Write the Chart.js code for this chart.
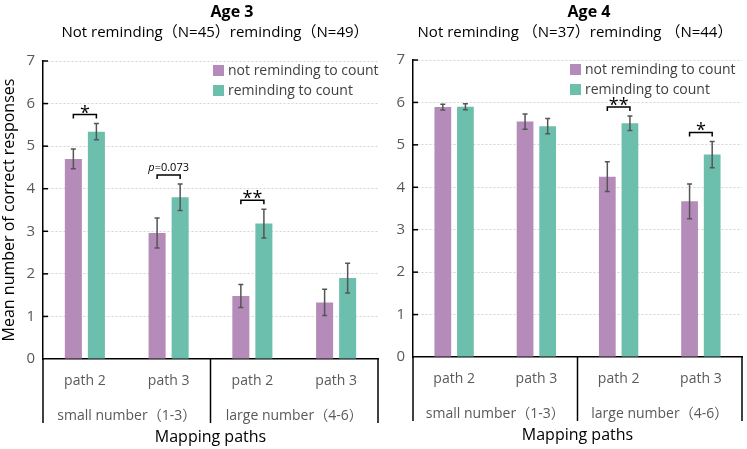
<!DOCTYPE html>
<html>
<head>
<meta charset="utf-8">
<script src="https://cdn.jsdelivr.net/npm/chart.js@4.4.0/dist/chart.umd.min.js"></script>
<style>
  html, body { margin: 0; padding: 0; background: #fff; }
  #wrap { position: relative; width: 747px; height: 449px; }
  #c1 { position: absolute; left: 0; top: 0; }
  #c2 { position: absolute; left: 380px; top: 0; }
</style>
</head>
<body>
<div id="wrap">
  <canvas id="c1" width="380" height="449"></canvas>
  <canvas id="c2" width="367" height="449"></canvas>
</div>
<script>
// ---------------- data ----------------
const categories = ['path 2', 'path 3', 'path 2', 'path 3'];
const groupLabels = ['small number（1-3）', 'large number（4-6）'];
const seriesNames = ['not reminding to count', 'reminding to count'];
const yTickValues = [0, 1, 2, 3, 4, 5, 6, 7];

const age3NotReminding = [4.70, 2.96, 1.48, 1.33];
const age3NotRemindingErr = [0.23, 0.35, 0.27, 0.31];
const age3Reminding = [5.34, 3.80, 3.18, 1.90];
const age3RemindingErr = [0.19, 0.31, 0.34, 0.35];

const age4NotReminding = [5.89, 5.55, 4.25, 3.67];
const age4NotRemindingErr = [0.07, 0.18, 0.35, 0.41];
const age4Reminding = [5.90, 5.44, 5.51, 4.77];
const age4RemindingErr = [0.07, 0.18, 0.17, 0.31];

const age3Significance = [[0, '*'], [1, 'p=0.073'], [2, '**']];
const age4Significance = [[2, '**'], [3, '*']];

const age3Title = 'Age 3';
const age3Subtitle = 'Not reminding（N=45）reminding（N=49）';
const age4Title = 'Age 4';
const age4Subtitle = 'Not reminding （N=37）reminding （N=44）';
const xTitle = 'Mapping paths';
const yTitle = 'Mean number of correct responses';

// ---------------- styling ----------------
const FONT = "'Open Sans', 'Noto Sans CJK SC', sans-serif";
const PURPLE = '#b58bba';
const TEAL = '#6cbfac';
const TICK_COLOR = '#595959';

const decorPlugin = {
  id: 'decor',
  afterDatasetsDraw(chart) {
    const o = chart.options.plugins.decor;
    const ctx = chart.ctx;
    const y = chart.scales.y;
    const errs = o.errors;
    // error bars
    ctx.save();
    ctx.strokeStyle = '#555555';
    ctx.lineWidth = 1.5;
    chart.data.datasets.forEach((ds, di) => {
      const meta = chart.getDatasetMeta(di);
      meta.data.forEach((el, i) => {
        const v = ds.data[i], e = errs[di][i];
        const yt = y.getPixelForValue(v + e), yb = y.getPixelForValue(v - e);
        ctx.beginPath();
        ctx.moveTo(el.x, yt); ctx.lineTo(el.x, yb);
        ctx.moveTo(el.x - 2.5, yt); ctx.lineTo(el.x + 2.5, yt);
        ctx.moveTo(el.x - 2.5, yb); ctx.lineTo(el.x + 2.5, yb);
        ctx.stroke();
      });
    });
    ctx.restore();
    // significance brackets
    ctx.save();
    ctx.strokeStyle = '#000';
    ctx.fillStyle = '#000';
    ctx.lineWidth = 1.5;
    o.sig.forEach(([cat, label]) => {
      const e0 = chart.getDatasetMeta(0).data[cat];
      const e1 = chart.getDatasetMeta(1).data[cat];
      const d0 = chart.data.datasets[0].data[cat] + errs[0][cat];
      const d1 = chart.data.datasets[1].data[cat] + errs[1][cat];
      const top = Math.min(y.getPixelForValue(d0), y.getPixelForValue(d1));
      const by = top - 9;
      ctx.beginPath();
      ctx.moveTo(e0.x, by + 4); ctx.lineTo(e0.x, by); ctx.lineTo(e1.x, by); ctx.lineTo(e1.x, by + 4);
      ctx.stroke();
      const cx = (e0.x + e1.x) / 2;
      ctx.textBaseline = 'alphabetic';
      if (label.startsWith('p=')) {
        ctx.font = 'italic 11px ' + FONT;
        const pw = ctx.measureText('p').width;
        ctx.font = '11px ' + FONT;
        const rest = label.slice(1);
        const rw = ctx.measureText(rest).width;
        const sx = cx - (pw + rw) / 2;
        ctx.textAlign = 'left';
        ctx.font = 'italic 11px ' + FONT;
        ctx.fillText('p', sx, by - 4);
        ctx.font = '11px ' + FONT;
        ctx.fillText(rest, sx + pw, by - 4);
      } else {
        ctx.font = '18px ' + FONT;
        ctx.textAlign = 'center';
        const n = label.length;
        for (let k = 0; k < n; k++) {
          ctx.fillText(label[k], cx + (k - (n - 1) / 2) * 10, by + 4);
        }
      }
    });
    ctx.restore();
  },
  afterDraw(chart) {
    const o = chart.options.plugins.decor;
    const ctx = chart.ctx;
    const a = chart.chartArea;
    const x = chart.scales.x, y = chart.scales.y;
    ctx.save();
    // inside tick marks on y axis
    ctx.strokeStyle = '#000';
    ctx.lineWidth = 1.5;
    y.ticks.forEach(t => {
      if (t.value === 0) return;
      const py = y.getPixelForValue(t.value);
      ctx.beginPath(); ctx.moveTo(a.left, py); ctx.lineTo(a.left + 5, py); ctx.stroke();
    });
    // group separators below the axis
    const mid = (x.getPixelForValue(1) + x.getPixelForValue(2)) / 2;
    [a.left, mid, a.right].forEach(px => {
      ctx.beginPath(); ctx.moveTo(px, a.bottom); ctx.lineTo(px, a.bottom + 64); ctx.stroke();
    });
    // titles
    ctx.fillStyle = '#000';
    ctx.textAlign = 'center';
    ctx.textBaseline = 'middle';
    ctx.font = 'bold 16px ' + FONT;
    ctx.fillText(o.title, o.titleX, 12);
    ctx.font = '15px ' + FONT;
    ctx.fillText(o.subtitle, o.subtitleX, 33);
    // legend
    const lx = a.right - o.legendOffset;
    chart.data.datasets.forEach((ds, i) => {
      const ly = a.top + 4 + i * 20;
      ctx.fillStyle = ds.backgroundColor;
      ctx.fillRect(lx, ly, 11, 11);
      ctx.fillStyle = '#404040';
      ctx.font = '14px ' + FONT;
      ctx.textAlign = 'left';
      ctx.textBaseline = 'middle';
      ctx.fillText(ds.label, lx + 15, ly + 6);
    });
    ctx.restore();
  }
};

function makeChart(canvasId, notRem, notRemErr, rem, remErr, sig, title, subtitle, opts) {
  return new Chart(document.getElementById(canvasId), {
    type: 'bar',
    data: {
      labels: categories,
      datasets: [
        { label: seriesNames[0], data: notRem, backgroundColor: PURPLE },
        { label: seriesNames[1], data: rem, backgroundColor: TEAL }
      ]
    },
    options: {
      responsive: false,
      animation: false,
      events: [],
      layout: { padding: { left: 0, right: opts.padRight, top: opts.padTop, bottom: opts.padBottom } },
      datasets: { bar: { categoryPercentage: 0.55, barPercentage: 0.74 } },
      plugins: {
        legend: { display: false },
        tooltip: { enabled: false },
        decor: {
          errors: [notRemErr, remErr], sig: sig,
          title: title, subtitle: subtitle,
          titleX: opts.titleX, subtitleX: opts.subtitleX, legendOffset: opts.legendOffset
        }
      },
      scales: {
        x: {
          type: 'category',
          position: 'bottom',
          grid: { display: false },
          border: { display: true, color: '#000', width: 1.5 },
          ticks: { color: TICK_COLOR, font: { family: FONT, size: 14 }, padding: 6, maxRotation: 0 },
          afterFit(s) { s.height = 36; }
        },
        x2: {
          type: 'category',
          position: 'bottom',
          labels: groupLabels,
          offset: true,
          grid: { display: false },
          border: { display: false },
          ticks: { color: TICK_COLOR, font: { family: FONT, size: 14 }, padding: 5, maxRotation: 0 },
          title: { display: true, text: xTitle, color: '#000', font: { family: FONT, size: 16 }, padding: { top: 0, bottom: 2 } },
          afterFit(s) { s.height = 54; }
        },
        y: {
          min: 0, max: 7,
          afterBuildTicks(s) { s.ticks = yTickValues.map(v => ({ value: v })); },
          grid: {
            drawTicks: false,
            color: c => (c.tick && c.tick.value === 0) ? 'rgba(0,0,0,0)' : '#d4d4d4',
            lineWidth: 1
          },
          border: { display: true, color: '#000', width: 1.5, dash: [2, 2] },
          ticks: { color: TICK_COLOR, font: { family: FONT, size: 15 }, padding: 8 },
          title: { display: opts.showYTitle, text: yTitle, color: '#000', font: { family: FONT, size: 16 }, padding: { top: 0, bottom: 0 } },
          afterFit(s) { s.width = opts.yWidth; }
        }
      }
    },
    plugins: [decorPlugin]
  });
}

makeChart('c1', age3NotReminding, age3NotRemindingErr, age3Reminding, age3RemindingErr, age3Significance,
  age3Title, age3Subtitle,
  { padRight: 2, padTop: 61, padBottom: 0, yWidth: 43, showYTitle: true, titleX: 232, subtitleX: 215, legendOffset: 165 });
makeChart('c2', age4NotReminding, age4NotRemindingErr, age4Reminding, age4RemindingErr, age4Significance,
  age4Title, age4Subtitle,
  { padRight: 5, padTop: 60, padBottom: 2, yWidth: 33, showYTitle: false, titleX: 209, subtitleX: 195, legendOffset: 172 });
</script>
</body>
</html>
